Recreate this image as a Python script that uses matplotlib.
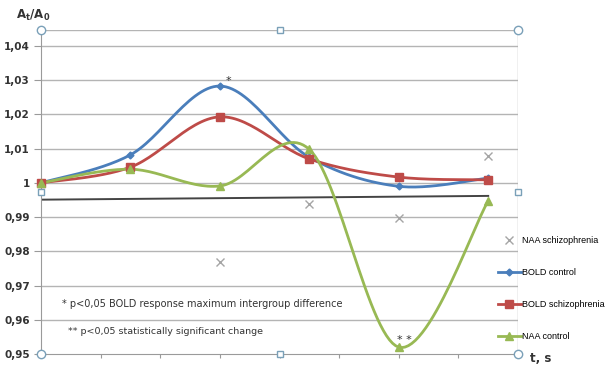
import numpy as np
import matplotlib.pyplot as plt
from matplotlib.lines import Line2D

# time points (s)
t = [0, 3, 6, 9, 12, 15]
bold_control = [1.000, 1.0082, 1.0283, 1.0075, 0.9990, 1.0014]
bold_schizo = [1.000, 1.0046, 1.0193, 1.0070, 1.0017, 1.0009]
naa_control = [1.000, 1.0040, 0.9991, 1.0098, 0.9520, 0.9947]
t_naa_schizo = [6, 9, 12, 15]
naa_schizo = [0.9770, 0.9938, 0.9898, 1.0079]
trend_t = [0, 15]
trend_y = [0.9951, 0.9962]

x_ticks = [0, 2, 4, 6, 8, 10, 12, 14, 16]
y_ticks = [0.95, 0.96, 0.97, 0.98, 0.99, 1.00, 1.01, 1.02, 1.03, 1.04]
y_labels = ['0,95', '0,96', '0,97', '0,98', '0,99', '1', '1,01', '1,02', '1,03', '1,04']


def smooth(x, y, n=30):
    # Excel-like smoothed line (Catmull-Rom through the points)
    p = np.column_stack([x, y]).astype(float)
    p_ext = np.vstack([p[0], p, p[-1]])
    out = []
    s = np.linspace(0, 1, n)[:, None]
    for i in range(len(p) - 1):
        p0, p1, p2, p3 = p_ext[i], p_ext[i + 1], p_ext[i + 2], p_ext[i + 3]
        c1 = p1 + (p2 - p0) / 6
        c2 = p2 - (p3 - p1) / 6
        seg = ((1 - s) ** 3) * p1 + 3 * ((1 - s) ** 2) * s * c1 + 3 * (1 - s) * s ** 2 * c2 + s ** 3 * p2
        out.append(seg if i == 0 else seg[1:])
    out = np.vstack(out)
    return out[:, 0], out[:, 1]


c_blue = '#4a7ebb'
c_red = '#be4b48'
c_green = '#98b954'
c_grey = '#a5a5a5'
c_grid = '#b4b4b4'

fig = plt.figure(figsize=(6.11, 3.67), dpi=100)
ax = fig.add_axes([41 / 611, 1 - 354 / 367, 477 / 611, 324 / 367])
ax.set_xlim(0, 16)
ax.set_ylim(0.95, 0.95 + 324 / 3422)

for v in y_ticks[1:]:
    ax.axhline(v, color=c_grid, lw=1, zorder=0)
ax.axhline(0.95 + 324 / 3422, color=c_grid, lw=1, zorder=0)
ax.axvline(16, color=c_grid, lw=1, zorder=0)

for side in ['top', 'right']:
    ax.spines[side].set_visible(False)
for side in ['left', 'bottom']:
    ax.spines[side].set_color('#9a9a9a')

# trend line
ax.plot(trend_t, trend_y, color='#444444', lw=1.4, zorder=2)

# smoothed series
series = [
    (bold_control, c_blue, 'D', 3.5),
    (bold_schizo, c_red, 's', 6),
    (naa_control, c_green, '^', 6),
]
for vals, col, mk, ms in series:
    sx, sy = smooth(t, vals)
    ax.plot(sx, sy, color=col, lw=2, zorder=3, clip_on=False)
    ax.plot(t, vals, ls='none', marker=mk, ms=ms, color=col, zorder=4, clip_on=False)

ax.plot(t_naa_schizo, naa_schizo, ls='none', marker='x', ms=6, mew=1, color=c_grey, zorder=4)

ax.set_xticks(x_ticks)
ax.set_xticklabels([str(v) for v in x_ticks], fontsize=8, color='#555555')
ax.tick_params(axis='x', length=3, color='#9a9a9a', pad=9)
ax.set_yticks(y_ticks)
ax.set_yticklabels(y_labels, fontsize=7.5, color='#333333', fontweight='bold')
ax.tick_params(axis='y', length=5, color='#9a9a9a', pad=3)

# selection handles around the plot area
hx = [0, 1, 0, 1]
hy = [0, 0, 1, 1]
ax.plot(hx, hy, ls='none', marker='o', ms=6, mfc='white', mec='#7aa0b8', mew=1,
        transform=ax.transAxes, clip_on=False, zorder=6)
ax.plot([0.5, 0.5, 0, 1], [0, 1, 0.5, 0.5], ls='none', marker='s', ms=5, mfc='white',
        mec='#7aa0b8', mew=1, transform=ax.transAxes, clip_on=False, zorder=6)

# annotations
ax.text(6.3, 1.0297, '*', fontsize=8, color='#333333', ha='center', va='center')
ax.text(12.2, 0.954, '* *', fontsize=8, color='#333333', ha='center', va='center')
ax.text(0.7, 0.9647, '* p<0,05 BOLD response maximum intergroup difference', fontsize=7.0,
        color='#333333', va='center')
ax.text(0.9, 0.9565, '** p<0,05 statistically significant change', fontsize=6.8,
        color='#333333', va='center')

fig.text(16 / 611, 1 - 15 / 367, r'$\mathbf{A_t/A_0}$', fontsize=8.5, color='#333333', va='center')
fig.text(530 / 611, 1 - 358 / 367, 't, s', fontsize=8.5, fontweight='bold', color='#333333', va='center')

handles = [
    Line2D([], [], ls='none', marker='x', ms=6, color=c_grey),
    Line2D([], [], color=c_blue, lw=2, marker='D', ms=3.5),
    Line2D([], [], color=c_red, lw=2, marker='s', ms=6),
    Line2D([], [], color=c_green, lw=2, marker='^', ms=6),
]
labels = ['NAA schizophrenia', 'BOLD control', 'BOLD schizophrenia', 'NAA control']
fig.legend(handles, labels, loc='upper left', bbox_to_anchor=(498 / 611, 1 - 236 / 367),
           frameon=False, handlelength=2.5, handletextpad=0.15,
           labelspacing=2.55, borderaxespad=0, borderpad=0,
           prop={'family': 'Liberation Sans', 'size': 6.5})

fig.savefig('out.png', dpi=100)
